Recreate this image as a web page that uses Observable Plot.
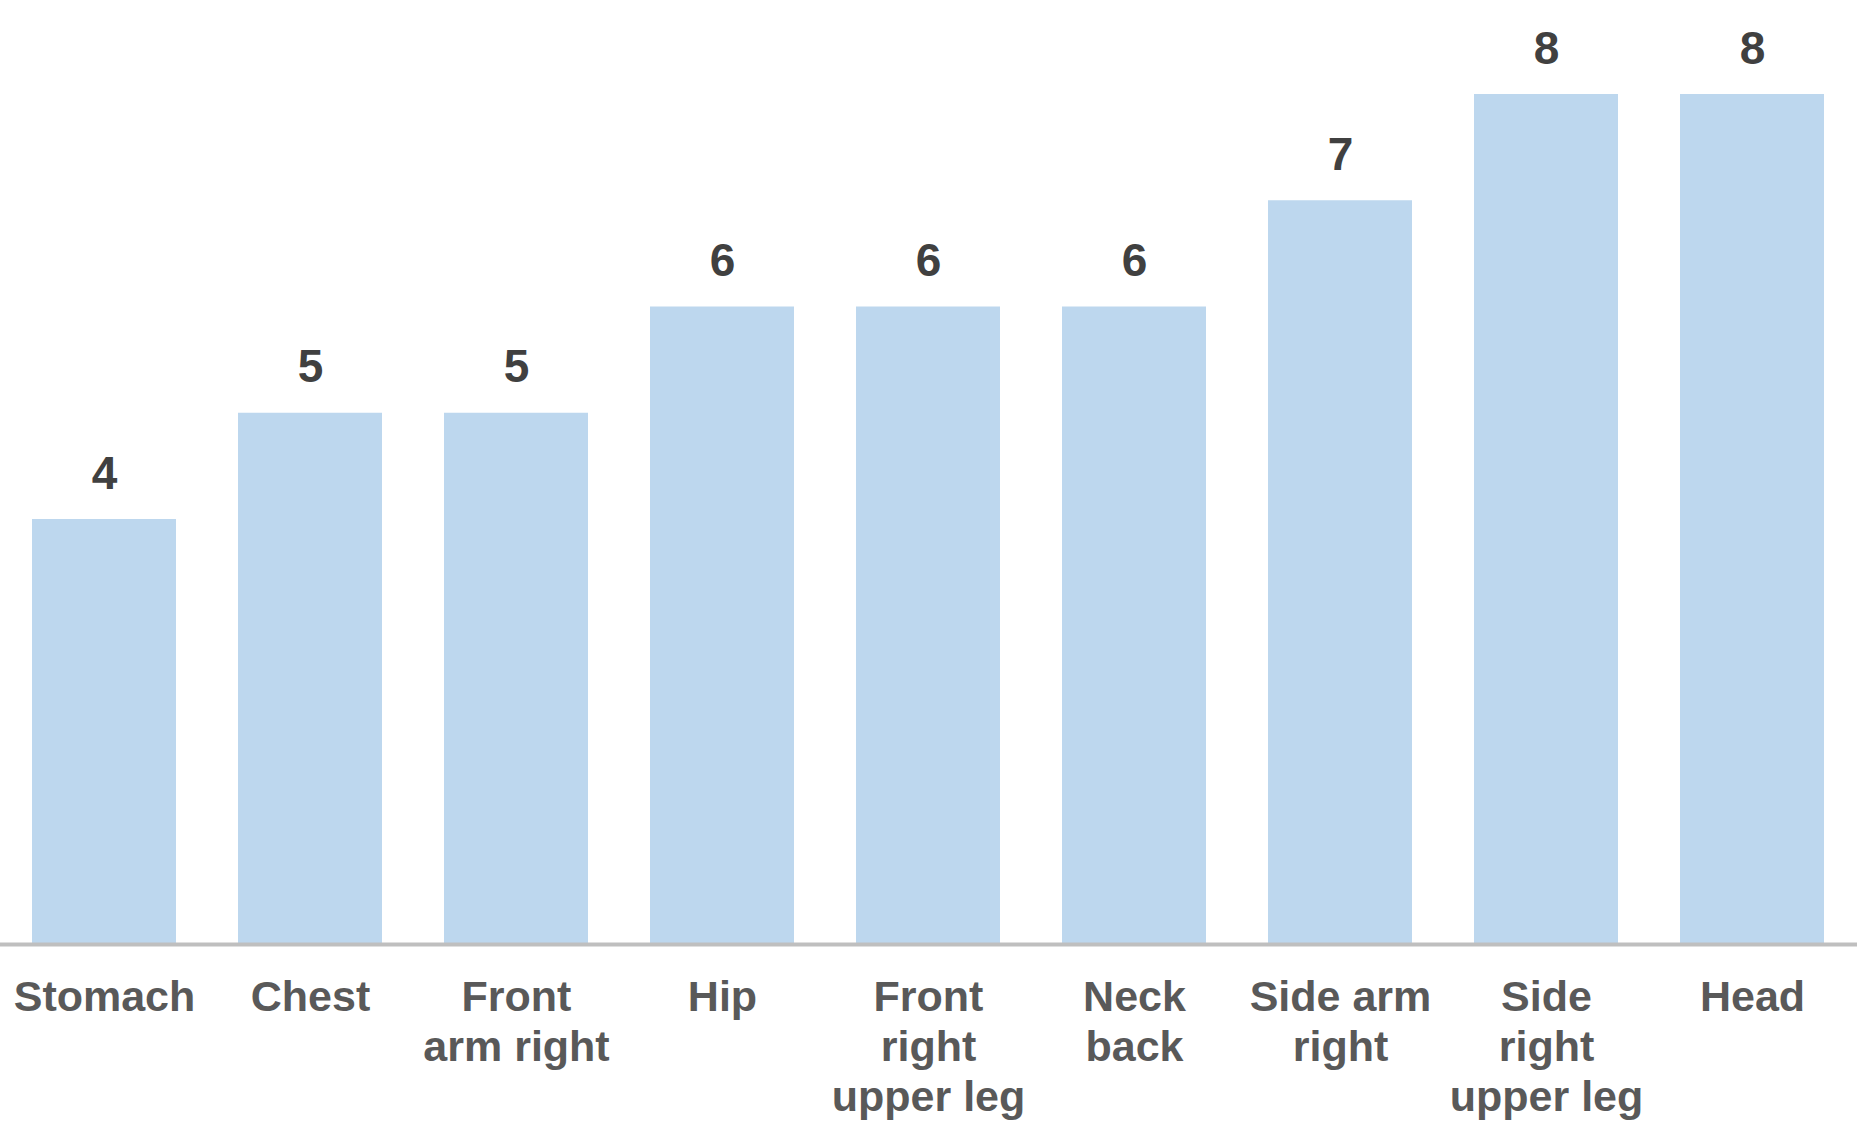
<!DOCTYPE html>
<html>
<head>
<meta charset="utf-8">
<script src="https://cdn.jsdelivr.net/npm/d3@7"></script>
<script src="https://cdn.jsdelivr.net/npm/@observablehq/plot@0.6"></script>
<style>
  html, body { margin: 0; padding: 0; background: #ffffff; }
  #chart svg { display: block; }
</style>
</head>
<body>
<div id="chart"></div>
<script>
const categories = ["Stomach", "Chest", "Front arm right", "Hip", "Front right upper leg", "Neck back", "Side arm right", "Side right upper leg", "Head"];
const tickLabels = ["Stomach", "Chest", "Front\narm right", "Hip", "Front\nright\nupper leg", "Neck\nback", "Side arm\nright", "Side\nright\nupper leg", "Head"];
const counts = [4, 5, 5, 6, 6, 6, 7, 8, 8];

const data = categories.map((c, i) => ({category: c, label: tickLabels[i], value: counts[i]}));
const font = "'Liberation Sans', Arial, sans-serif";

const chart = Plot.plot({
  width: 1874,
  height: 1138,
  marginLeft: 0,
  marginRight: 17,
  marginTop: 94,
  marginBottom: 194,
  style: {fontFamily: font, background: "#ffffff"},
  x: {domain: categories, paddingInner: 0.3, paddingOuter: 0.14, axis: null},
  y: {domain: [0, 8], axis: null},
  marks: [
    Plot.barY(data, {x: "category", y: "value", fill: "#BDD7EE"}),
    Plot.ruleY([0], {stroke: "#BFBFBF", strokeWidth: 4}),
    Plot.text(data, {x: "category", y: "value", text: d => String(d.value), lineAnchor: "bottom", dy: -31, fontSize: 46, fontWeight: "bold", fill: "#404040"}),
    Plot.text(data, {x: "category", y: () => 0, text: "label", lineAnchor: "top", dy: 31, fontSize: 43, lineHeight: 1.16, fontWeight: "bold", fill: "#595959"})
  ]
});
document.getElementById("chart").appendChild(chart);
</script>
</body>
</html>
